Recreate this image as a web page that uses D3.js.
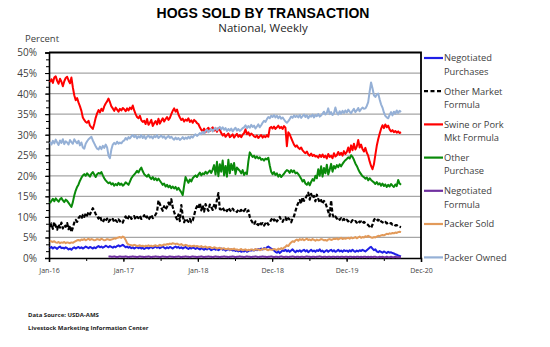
<!DOCTYPE html>
<html>
<head>
<meta charset="utf-8">
<script src="https://cdn.jsdelivr.net/npm/d3@7/dist/d3.min.js"></script>
<style>
  html, body { margin: 0; padding: 0; background: #fff; }
  svg { display: block; }
</style>
</head>
<body>
<svg id="chart" width="550" height="347"></svg>
<script>
// Weekly share of hogs sold by transaction type, percent (first week ends early Jan 2016)
const firstWeek = new Date(Date.UTC(2016, 0, 8));

const negotiatedPurchases = [
  // 2016
  2.4,2.7,2.3,2.6,2.5,2.2,2.6,2.8,2.4,2.5, 2.3,2.6,2.4,2.1,2.3,2.0,2.4,2.6,2.3,2.5,
  2.7,2.4,2.6,2.3,2.5,2.8,2.6,2.4,2.7,2.5, 2.3,2.6,2.4,2.7,2.9,2.6,2.8,2.5,2.7,3.0,
  2.8,2.6,2.9,2.7,2.5,2.8,2.6,2.9,3.1,2.8, 3.0,3.2,
  // 2017
  2.9,2.6,2.8,2.5,2.7,2.4,2.6,2.3,2.5,2.7, 2.4,2.6,2.3,2.5,2.2,2.4,2.6,2.3,2.5,2.7,
  2.4,2.6,2.8,2.5,2.7,2.4,2.6,2.8,2.5,2.3, 2.6,2.4,2.7,2.5,2.3,2.6,2.8,2.5,2.7,2.4,
  2.6,2.3,2.5,2.7,2.4,2.2,2.5,2.3,2.6,2.4, 2.2,2.5,
  // 2018
  2.3,2.1,2.4,2.2,2.0,2.3,2.1,2.4,2.2,1.9, 2.1,2.3,2.0,2.2,1.9,2.1,2.3,2.0,2.2,1.8,
  2.0,2.2,1.9,2.1,1.8,2.0,1.7,1.9,1.6,1.8, 1.5,1.7,1.6,1.9,1.5,1.7,1.9,1.8,2.0,1.8,
  2.1,1.9,2.2,2.0,2.3,2.1,2.4,2.2,2.6,2.8, 2.5,2.3,
  // 2019
  2.1,1.8,1.5,1.3,1.6,1.2,1.5,1.9,1.7,2.0, 1.6,1.9,1.5,1.8,2.1,1.7,1.4,1.8,1.6,1.9,
  1.5,1.8,2.0,1.6,1.9,1.4,1.7,2.0,1.6,1.8, 1.5,1.9,1.7,2.1,1.6,1.8,1.4,1.7,1.9,1.5,
  1.8,2.0,1.6,1.9,1.5,1.7,2.0,1.6,1.8,1.5, 1.9,1.7,
  // 2020
  1.8,1.5,1.9,1.6,2.0,1.7,1.5,1.8,1.6,1.9, 1.7,2.0,1.8,1.6,1.9,2.2,2.5,2.7,2.3,1.9,
  2.1,1.6,1.4,1.7,1.5,1.3,1.6,1.4,1.2,1.5, 1.3,1.4,1.2,1.1,0.9,0.8,0.6,0.5,0.4
];

const otherMarketFormula = [
  // 2016
  7.5,8.4,7.1,8.7,7.8,6.9,8.2,7.4,8.6,7.2,8.0,7.6,8.5,7.0,7.9,
  6.3,7.4,
  8.6,9.3,8.8,9.7,10.2,9.6,10.5,10.0,10.8,10.3,11.2,10.6,
  11.4,12.1,11.5,
  10.7,10.1,9.6,10.2,9.2,8.7,9.4,8.9,9.6,8.8,9.3,
  9.0,9.5,8.7,9.2,8.8,9.4,8.9,9.1,8.6,
  // 2017
  9.6,10.1,9.3,9.9,10.4,9.5,9.8,10.2,9.4,10.0,9.7,10.3,9.5,9.9,10.4,9.6,10.1,9.3,9.8,10.5,9.7,10.0,10.6,11.2,
  14.0,13.1,
  12.2,11.5,12.6,11.8,12.4,13.5,12.6,14.3,
  12.4,11.2,10.1,9.4,10.6,9.0,
  12.9,10.3,8.7,9.6,
  9.2,8.8,9.5,8.7,9.1,10.4,11.8,12.6,
  // 2018
  12.1,13.4,11.6,12.8,11.3,13.1,12.2,11.5,13.0,12.4,11.7,12.9,12.1,14.2,15.8,11.9,
  11.8,12.3,11.6,12.0,11.4,12.2,11.7,11.3,12.0,11.5,
  11.6,11.2,11.8,11.4,11.7,11.1,11.5,11.9,11.3,11.6,
  10.0,9.2,
  8.6,8.1,8.9,8.3,8.0,8.7,8.2,8.5,7.9,8.4,8.8,8.1,8.6,9.3,
  // 2019
  9.8,9.1,9.6,8.9,9.4,10.0,9.2,8.8,9.5,9.9,9.0,9.7,9.3,8.7,9.6,10.2,11.4,
  12.6,13.4,14.1,13.2,14.8,13.9,14.5,15.2,
  15.9,14.2,15.6,14.6,15.1,13.8,15.4,14.4,
  13.5,14.1,13.2,13.9,13.4,
  12.4,11.3,10.2,14.0,10.6,9.8,
  10.1,9.6,9.9,9.3,9.7,9.2,9.5,9.0,
  // 2020
  9.3,8.9,9.1,8.7,9.2,8.8,9.0,8.6,9.1,8.7,8.9,8.4,8.8,8.5,8.3,8.0,
  7.6,7.3,8.1,
  9.2,9.7,9.4,9.1,9.5,8.9,
  8.7,8.5,8.8,8.4,8.6,8.3,8.5,8.1,8.2,7.9,8.0,7.7,7.6,7.5
];

const swinePorkMktFormula = [
  // 2016
  42.8,43.5,42.6,43.9,44.2,43.1,42.4,43.6,42.9,41.8,43.0,43.8,44.1,43.2,42.5,43.9,
  41.5,39.6,38.4,38.9,37.8,
  36.9,35.8,34.2,33.6,33.1,32.9,33.4,32.2,31.8,31.4,
  32.6,34.1,35.2,36.0,35.4,36.3,35.8,36.9,37.6,38.1,38.8,37.9,
  36.9,36.4,35.8,36.6,36.1,35.6,36.3,35.9,36.5,
  // 2017
  36.2,35.7,36.4,35.9,36.6,36.2,37.1,
  35.9,35.0,34.3,34.0,34.6,33.5,33.1,
  33.4,32.6,33.8,32.4,32.9,33.6,32.1,32.8,33.3,32.5,33.9,32.7,33.4,34.0,33.2,33.8,34.3,33.6,34.1,35.0,
  35.8,36.4,35.6,36.1,34.9,34.2,33.6,
  33.9,33.2,33.7,33.4,34.0,33.1,33.5,32.9,33.6,33.3,32.8,
  // 2018
  32.6,31.8,31.2,30.8,31.5,30.6,
  31.3,31.7,30.9,31.4,31.8,31.0,31.5,30.7,31.6,31.2,
  30.4,29.8,30.2,29.5,29.9,30.3,29.4,29.7,30.1,29.3,29.8,30.2,29.5,29.9,29.4,30.0,
  30.4,31.3,30.1,30.6,29.8,30.3,30.0,29.6,
  29.4,29.8,29.2,29.6,29.9,29.3,29.7,29.4,29.9,29.5,31.6,31.9,
  // 2019
  31.5,32.0,31.4,31.8,32.2,31.6,31.9,31.4,32.1,31.7,
  27.2,30.6,30.1,29.2,28.4,27.6,27.1,
  27.4,26.8,26.5,26.9,26.2,25.8,25.5,25.9,25.2,24.9,25.4,24.8,25.1,24.7,
  24.8,24.4,25.1,24.6,25.2,24.5,24.9,24.2,25.3,24.6,24.9,24.3,25.5,24.7,25.0,25.8,25.1,25.6,24.9,26.0,25.3,
  // 2020
  25.8,26.9,25.7,27.4,26.2,27.8,26.4,27.1,28.7,26.9,27.6,26.5,25.9,
  26.8,25.6,24.9,23.5,22.4,21.6,22.8,
  25.1,27.3,28.9,30.2,31.4,32.3,
  31.6,32.5,31.8,32.2,31.3,30.8,31.1,30.6,30.9,30.5,30.8,30.4,30.6
];

const otherPurchase = [
  // 2016
  13.3,13.9,14.4,13.8,14.5,14.1,13.7,14.3,14.6,14.0,13.6,14.2,13.9,13.4,
  12.9,12.4,13.6,
  15.2,16.4,17.3,17.9,18.8,19.5,20.1,20.4,20.0,
  20.6,20.2,19.8,20.5,20.9,20.3,19.7,20.4,20.7,
  20.5,20.9,20.1,19.4,18.9,18.5,18.2,
  18.4,17.9,18.2,17.6,18.0,17.7,18.3,17.8,18.1,17.6,
  // 2017
  17.9,18.4,18.1,17.8,
  18.6,19.4,19.9,20.3,20.7,21.2,20.8,21.5,22.0,
  21.1,20.4,20.1,19.8,20.3,19.6,19.2,19.7,19.0,19.4,18.9,19.3,18.8,
  18.3,17.8,18.1,17.4,17.8,17.2,17.6,17.0,17.4,16.9,17.3,16.6,17.1,
  16.5,16.0,15.3,17.6,
  19.7,18.9,18.3,19.1,18.6,19.4,19.8,20.1,19.7,
  // 2018
  20.3,20.8,20.1,20.6,20.4,21.0,20.5,20.9,21.3,20.7,21.5,
  22.6,20.3,23.4,19.9,22.8,21.0,23.7,20.1,22.4,19.8,23.9,20.6,22.9,21.4,23.1,20.4,22.0,21.6,
  21.2,20.6,21.4,20.2,20.8,20.4,23.5,25.7,
  25.1,24.6,24.9,24.3,24.7,24.2,24.5,23.9,24.1,23.7,24.2,24.0,24.4,
  22.5,21.0,
  // 2019
  20.4,20.9,20.2,20.6,19.8,20.3,19.7,20.1,20.5,21.0,21.4,
  21.2,20.7,21.4,20.9,21.3,20.6,20.8,20.4,19.9,
  19.3,18.6,19.0,18.1,17.8,18.4,17.7,18.5,19.2,18.8,20.0,
  19.4,21.6,20.0,22.3,19.8,21.9,20.6,22.7,20.3,21.5,22.9,21.0,22.4,
  21.8,22.6,22.1,22.8,22.3,22.9,23.4,23.8,
  // 2020
  24.1,24.5,24.2,25.0,24.6,
  23.9,23.0,22.4,21.6,20.9,20.4,19.9,
  19.7,19.3,19.6,18.9,19.4,19.0,18.7,
  18.4,18.0,18.5,17.9,18.2,17.6,18.1,17.5,17.9,17.3,17.8,17.4,18.0,17.6,17.3,17.9,17.5,19.0,18.1,17.8
];

// Negotiated formula is reported from week 41 onward
const negotiatedFormulaFirstWeek = 41;
const negotiatedFormula = [
  // late 2016
  0.3,0.4,0.3,0.3,0.4,0.3,0.2,0.3,0.4,0.3,0.3,
  // 2017
  0.3,0.4,0.3,0.2,0.3,0.3,0.4,0.3,0.3,0.2, 0.3,0.4,0.3,0.3,0.2,0.3,0.3,0.4,0.3,0.2,
  0.3,0.3,0.4,0.3,0.3,0.2,0.3,0.4,0.3,0.3, 0.2,0.3,0.4,0.3,0.3,0.2,0.3,0.3,0.4,0.3,
  0.2,0.3,0.3,0.4,0.3,0.3,0.2,0.3,0.4,0.3, 0.3,0.2,
  // 2018
  0.3,0.3,0.4,0.3,0.2,0.3,0.3,0.4,0.3,0.3, 0.2,0.3,0.4,0.3,0.3,0.2,0.3,0.3,0.4,0.3,
  0.3,0.2,0.3,0.3,0.4,0.3,0.2,0.3,0.3,0.4, 0.3,0.3,0.2,0.3,0.4,0.3,0.3,0.2,0.3,0.3,
  0.4,0.3,0.2,0.3,0.3,0.4,0.3,0.3,0.2,0.3, 0.3,0.4,
  // 2019
  0.3,0.2,0.3,0.3,0.2,0.3,0.4,0.3,0.2,0.3, 0.3,0.2,0.3,0.3,0.4,0.3,0.2,0.3,0.3,0.2,
  0.3,0.3,0.2,0.3,0.4,0.3,0.3,0.2,0.3,0.3, 0.2,0.3,0.3,0.4,0.3,0.2,0.3,0.3,0.2,0.3,
  0.3,0.2,0.3,0.3,0.2,0.3,0.3,0.2,0.3,0.3, 0.2,0.3,
  // 2020
  0.3,0.2,0.3,0.3,0.2,0.3,0.2,0.3,0.3,0.2, 0.3,0.2,0.3,0.3,0.2,0.3,0.2,0.3,0.2,0.3,
  0.3,0.2,0.2,0.3,0.2,0.3,0.2,0.2,0.3,0.2, 0.2,0.3,0.2,0.2,0.3,0.2,0.2,0.2,0.2
];

const packerSold = [
  // 2016
  4.2,4.0,3.9,4.1,3.8,3.7,3.9,3.6,3.8,3.7,3.9,3.6,3.8,3.7,3.6,3.8,3.7,3.9,
  4.1,4.3,4.4,4.2,4.5,4.4,4.6,4.3,4.5,4.7,4.4,4.6,4.5,4.3,4.4,4.6,4.5,4.4,4.7,4.5,4.3,4.4,
  4.6,4.5,4.4,4.5,4.6,4.8,4.7,4.9,
  5.0,5.1,4.9,5.2,
  // 2017
  5.0,4.4,3.6,3.3,
  3.2,3.1,3.0,3.2,3.1,2.9,3.0,3.1,2.9,3.0, 2.8,3.0,2.9,3.1,2.9,3.0,2.8,3.0,3.1,2.9,
  3.0,3.2,3.0,3.1,3.3,3.2,3.4,3.3,3.5,3.4, 3.6,3.5,3.4,3.5,3.3,3.2,3.4,3.1,3.0,3.2,
  3.1,2.9,3.0,2.8,2.9,3.0,2.8,2.9,
  // 2018
  2.8,2.7,2.9,2.6,2.7,2.8,2.5,2.6,2.7,2.5, 2.4,2.6,2.5,2.3,2.4,2.5,2.2,2.3,2.4,2.1,
  2.2,2.3,2.0,2.2,2.1,2.3,2.0,
  2.1,1.9,2.0,2.2,1.9,2.0,2.1,1.8,2.0,1.9, 2.1,2.0,1.9,2.2,2.0,2.1,1.9,2.0,2.2,2.1,
  2.3,2.0,1.9,2.1,2.0,
  // 2019
  2.0,2.2,2.1,1.9,2.3,2.1,2.4,2.2,2.5,2.7,
  3.1,2.9,3.4,3.8,4.1,3.9,4.3,4.5,4.2,4.6,
  4.4,4.6,4.3,4.5,4.7,4.4,4.5,4.3,4.6,4.4, 4.2,4.5,4.3,4.4,4.6,4.5,4.3,4.4,4.2,4.5,
  4.6,4.4,4.5,4.7,4.6,4.8,4.5,4.7,4.9,4.6, 4.8,4.7,
  // 2020
  4.8,4.9,4.7,5.0,4.8,4.9,5.1,4.8,5.0,5.2, 4.9,5.1,5.0,5.3,5.1,5.4,5.2,5.0,4.9,5.1,
  5.0,5.2,5.4,5.3,5.5,5.6,
  5.5,5.7,5.9,5.8,6.0,5.9,6.1,6.0,6.2,6.1,6.3,6.4,6.3
];

const packerOwned = [
  // 2016
  28.2,27.6,28.5,27.9,28.8,28.1,27.5,28.6,28.0,28.9,27.7,28.4,28.1,27.6,28.7,28.2,27.8,28.9,28.3,27.9,28.5,27.4,28.1,
  26.9,26.6,27.8,
  28.4,28.9,29.2,29.5,28.6,
  27.9,27.2,26.6,26.4,27.1,26.5,27.3,26.8,27.6,
  26.9,24.9,24.3,26.4,27.6,
  28.0,27.7,28.3,27.8,28.1,27.9,28.4,
  // 2017
  28.6,29.2,28.8,29.4,29.1,29.6,29.9,
  29.4,29.8,29.1,29.6,29.3,29.9,29.2,29.7,29.0,29.5,29.8,29.3,29.6,29.1,29.7,29.4,29.9,29.2,29.5,29.8,29.3,29.6,29.0,29.4,29.7,29.2,29.5,
  29.1,28.8,29.3,28.9,29.2,28.7,29.0,29.4,28.9,29.3,29.0,29.5,29.1,29.6,29.3,29.8,30.1,29.7,
  // 2018
  30.0,30.4,30.1,30.7,30.3,30.9,31.2,30.6,31.0,31.4,30.8,31.3,31.7,31.1,31.5,31.9,31.3,31.8,
  31.2,31.6,30.9,31.4,31.0,31.5,30.8,31.3,31.7,31.0,31.4,30.9,31.2,31.6,
  31.8,32.3,31.6,32.1,31.7,32.4,31.9,32.2,31.5,32.0,32.5,31.8,32.3,
  32.9,33.4,33.1,33.8,34.3,34.0,34.6,
  // 2019
  34.3,34.8,34.2,34.6,34.0,34.5,33.9,34.2,33.7,33.2,32.9,
  33.3,33.8,34.4,34.1,34.7,34.3,
  34.6,34.2,34.8,34.1,34.5,34.9,34.3,34.7,34.0,34.6,34.4,34.9,34.2,34.8,34.5,35.0,34.4,34.7,
  35.1,35.6,34.9,35.3,36.4,35.0,35.5,34.8,35.2,36.6,35.4,34.9,35.7,35.1,35.8,35.3,35.9,
  // 2020
  35.4,36.1,35.6,35.2,35.8,36.3,35.5,35.9,36.5,35.7,36.2,36.6,36.3,
  36.4,37.0,37.9,40.5,42.7,41.3,
  39.6,39.2,39.8,40.0,38.6,37.4,
  36.6,35.4,34.6,34.2,34.0,34.8,35.5,34.7,35.6,35.1,35.9,35.3,35.8,35.5
];

const seriesNames = [
  ["Negotiated", "Purchases"],
  ["Other Market", "Formula"],
  ["Swine or Pork", "Mkt Formula"],
  ["Other", "Purchase"],
  ["Negotiated", "Formula"],
  ["Packer Sold"],
  ["Packer Owned"]
];
const seriesColors = ["#1f1fe6", "#000000", "#ff0000", "#0a8a0a", "#7030a0", "#e29a5a", "#95b0d6"];
const seriesValues = [negotiatedPurchases, otherMarketFormula, swinePorkMktFormula, otherPurchase,
                      negotiatedFormula, packerSold, packerOwned];
const seriesFirstWeek = [0, 0, 0, 0, negotiatedFormulaFirstWeek, 0, 0];

const yTicks = [0, 5, 10, 15, 20, 25, 30, 35, 40, 45, 50];
// date axis: one major tick per year-long step from its first day
const xTickLabels = ["Jan-16", "Jan-17", "Jan-18", "Dec-18", "Dec-19", "Dec-20"];
const axisStart = new Date(Date.UTC(2016, 0, 3));

// ---- layout ----
const svg = d3.select("#chart");
const plot = { left: 49, right: 421, top: 52.5, bottom: 258 };
const DAY = 86400000;
const steps = xTickLabels.length - 1;

const x = d3.scaleUtc()
  .domain([axisStart, new Date(axisStart.getTime() + steps * 365 * DAY)])
  .range([plot.left, plot.right]);
const y = d3.scaleLinear().domain([0, 50]).range([plot.bottom, plot.top]);

const textColor = "#404040";
const uiFont = "'Open Sans', 'Noto Sans', sans-serif";

// titles
svg.append("text").attr("x", 263).attr("y", 17.5).attr("text-anchor", "middle")
  .attr("font-family", "'Liberation Sans', Arial, sans-serif").attr("font-weight", "bold")
  .attr("font-size", 14).attr("fill", "#000").text("HOGS SOLD BY TRANSACTION");
svg.append("text").attr("x", 263).attr("y", 31.5).attr("text-anchor", "middle")
  .attr("font-family", uiFont).attr("font-size", 11.5).attr("fill", "#262626").text("National, Weekly");
svg.append("text").attr("x", 25).attr("y", 41.5)
  .attr("font-family", uiFont).attr("font-size", 9.5).attr("fill", textColor).text("Percent");

// horizontal gridlines
svg.append("g").selectAll("line").data(yTicks.filter(d => d > 0 && d < 50)).join("line")
  .attr("x1", plot.left).attr("x2", plot.right)
  .attr("y1", d => y(d)).attr("y2", d => y(d))
  .attr("stroke", "#a6a6a6").attr("stroke-width", 1.2);

// y axis: minor then major ticks
const yMinor = d3.range(0, 50.01, 5 / 3);
svg.append("g").attr("transform", `translate(${plot.left},0)`)
  .call(d3.axisLeft(y).tickValues(yMinor).tickSize(3).tickFormat(""))
  .call(g => g.select(".domain").remove())
  .call(g => g.selectAll("line").attr("stroke", "#000"));
svg.append("g").attr("transform", `translate(${plot.left},0)`)
  .call(d3.axisLeft(y).tickValues(yTicks).tickSize(4).tickPadding(8).tickFormat(d => d + "%"))
  .call(g => g.select(".domain").attr("stroke", "#000").attr("stroke-width", 1.6))
  .call(g => g.selectAll("line").attr("stroke", "#000"))
  .call(g => g.selectAll("text").attr("font-family", uiFont).attr("font-size", 10)
    .attr("fill", textColor).attr("dy", "0.34em"));

// x axis: yearly major ticks, half-year minor ticks
const majorDates = d3.range(0, steps + 1).map(k => new Date(axisStart.getTime() + k * 365 * DAY));
const minorDates = d3.range(0, steps * 2 + 1).map(k => new Date(axisStart.getTime() + k * 182.5 * DAY));
svg.append("g").attr("transform", `translate(0,${plot.bottom})`)
  .call(d3.axisBottom(x).tickValues(minorDates).tickSize(3).tickFormat(""))
  .call(g => g.select(".domain").remove())
  .call(g => g.selectAll("line").attr("stroke", "#000"));
svg.append("g").attr("transform", `translate(0,${plot.bottom})`)
  .call(d3.axisBottom(x).tickValues(majorDates).tickSize(4).tickPadding(6)
    .tickFormat((d, i) => xTickLabels[i]))
  .call(g => g.select(".domain").attr("stroke", "#000").attr("stroke-width", 1.6))
  .call(g => g.selectAll("line").attr("stroke", "#000"))
  .call(g => g.selectAll("text").attr("font-family", uiFont).attr("font-size", 7).attr("fill", textColor));

// top and right frame
svg.append("path")
  .attr("d", `M${plot.left},${plot.top}H${plot.right}V${plot.bottom}`)
  .attr("fill", "none").attr("stroke", "#000").attr("stroke-width", 1.8);

// series lines
const weekDate = i => d3.utcDay.offset(firstWeek, 7 * i);
const line = d3.line().x(d => x(d.date)).y(d => y(d.value));
const lineG = svg.append("g");
seriesValues.forEach((vals, s) => {
  const pts = vals.map((v, i) => ({ date: weekDate(seriesFirstWeek[s] + i), value: v }));
  lineG.append("path").datum(pts)
    .attr("d", line)
    .attr("fill", "none")
    .attr("stroke", seriesColors[s])
    .attr("stroke-width", s === 1 ? 2.2 : 2)
    .attr("stroke-linejoin", "round")
    .attr("stroke-dasharray", s === 1 ? "4,2" : null);
});

// legend
const legendRowY = [58, 91.2, 124.4, 157.6, 190.8, 224, 257.4];
const legend = svg.append("g");
seriesNames.forEach((lines, s) => {
  const g = legend.append("g").attr("transform", `translate(424,${legendRowY[s]})`);
  g.append("line").attr("x1", 0).attr("x2", 19).attr("y1", 0).attr("y2", 0)
    .attr("stroke", seriesColors[s]).attr("stroke-width", 2.2)
    .attr("stroke-dasharray", s === 1 ? "4,2.5" : null);
  lines.forEach((t, k) => {
    g.append("text").attr("x", 20).attr("y", 3.3 + k * 13.6)
      .attr("font-family", uiFont).attr("font-size", 9.3).attr("fill", textColor).text(t);
  });
});

// source notes
const notes = ["Data Source:  USDA-AMS", "Livestock Marketing Information Center"];
svg.append("g").selectAll("text").data(notes).join("text")
  .attr("x", 28).attr("y", (d, i) => 316.5 + i * 13)
  .attr("font-family", uiFont).attr("font-weight", "bold").attr("font-size", 6)
  .attr("fill", "#222").text(d => d);
</script>
</body>
</html>
